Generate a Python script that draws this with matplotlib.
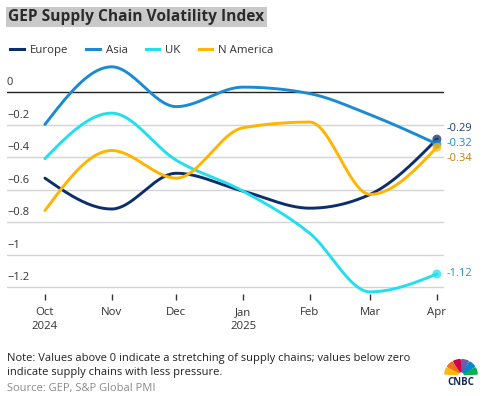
import numpy as np
import matplotlib
matplotlib.use("Agg")
import matplotlib.pyplot as plt
import matplotlib.dates as mdates
from matplotlib.lines import Line2D
from matplotlib.patches import Wedge

plt.rcParams['font.family'] = ['Open Sans', 'DejaVu Sans']

# datos
months = np.array(['2024-10-01', '2024-11-01', '2024-12-01', '2025-01-01',
                   '2025-02-01', '2025-03-01', '2025-04-01'], dtype='datetime64[D]')
month_labels = ['Oct\n2024', 'Nov', 'Dec', 'Jan\n2025', 'Feb', 'Mar', 'Apr']
europe = [-0.53, -0.72, -0.50, -0.61, -0.715, -0.63, -0.29]
asia = [-0.20, 0.155, -0.09, 0.03, -0.01, -0.14, -0.32]
uk = [-0.41, -0.13, -0.42, -0.61, -0.87, -1.23, -1.12]
n_america = [-0.73, -0.36, -0.53, -0.22, -0.185, -0.63, -0.34]
yticks = [0, -0.2, -0.4, -0.6, -0.8, -1, -1.2]
ytick_labels = ['0', '\u22120.2', '\u22120.4', '\u22120.6', '\u22120.8', '\u22121', '\u22121.2']

series = [
    ('Europe', europe, '#0c2e6c', '#1d3f7a', 8),
    ('Asia', asia, '#1a8bd2', '#1a8bd2', 0),
    ('UK', uk, '#22dfee', '#2a8fc0', 0),
    ('N America', n_america, '#ffb400', '#c67b10', -8),
]


def monotone_curve(x, y, n=40):
    # curva monotona tipo d3 (solo para dibujar la linea suave)
    x = np.asarray(x, float)
    y = np.asarray(y, float)
    h = np.diff(x)
    s = np.diff(y) / h
    t = np.zeros_like(y)
    for i in range(1, len(y) - 1):
        p = (s[i - 1] * h[i] + s[i] * h[i - 1]) / (h[i - 1] + h[i])
        t[i] = (np.sign(s[i - 1]) + np.sign(s[i])) * min(abs(s[i - 1]), abs(s[i]), 0.5 * abs(p))
    t[0] = (3 * s[0] - t[1]) / 2
    t[-1] = (3 * s[-1] - t[-2]) / 2
    xs, ys = [], []
    for i in range(len(h)):
        u = np.linspace(0, 1, n)
        x0, x1 = x[i], x[i + 1]
        dx = (x1 - x0) / 3
        p0, p1 = np.array([x0, y[i]]), np.array([x1, y[i + 1]])
        c0 = np.array([x0 + dx, y[i] + dx * t[i]])
        c1 = np.array([x1 - dx, y[i + 1] - dx * t[i + 1]])
        b = ((1 - u) ** 3)[:, None] * p0 + (3 * (1 - u) ** 2 * u)[:, None] * c0 \
            + (3 * (1 - u) * u ** 2)[:, None] * c1 + (u ** 3)[:, None] * p1
        xs.append(b[:, 0])
        ys.append(b[:, 1])
    return np.concatenate(xs), np.concatenate(ys)


fig = plt.figure(figsize=(4.89, 3.96), dpi=100)
ax = fig.add_axes([7 / 489, 1 - 293.5 / 396, 437 / 489, 234 / 396])

xnum = mdates.date2num(months.astype('datetime64[s]').astype(object))

for y in yticks:
    ax.axhline(y, color='#222222' if y == 0 else '#d4d4d4', lw=1.0, zorder=1)
    ax.text(0, y + 0.022, ytick_labels[yticks.index(y)], transform=ax.get_yaxis_transform(),
            ha='left', va='bottom', fontsize=8, color='#333333')

for name, vals, col, lab_col, dy in series:
    cx, cy = monotone_curve(xnum, vals)
    ax.plot(cx, cy, color=col, lw=2.1, solid_capstyle='round', zorder=3, clip_on=False)
    ax.scatter([xnum[-1]], [vals[-1]], s=42, color=col, alpha=0.75, zorder=4,
               edgecolors='none', clip_on=False)

for name, vals, col, lab_col, dy in series:
    ax.annotate('%.2f' % vals[-1], (xnum[-1], vals[-1]), xytext=(7, dy),
                textcoords='offset points', ha='left', va='center',
                fontsize=8, color=lab_col, annotation_clip=False)

ax.set_xlim(xnum[0] - 17.6, xnum[-1] + 3.3)
ax.set_ylim(-1.24, 0.2)
ax.set_xticks(xnum)
ax.set_xticklabels(month_labels, fontsize=8.2, color='#333333', linespacing=1.3)
ax.tick_params(axis='x', length=4, width=1, color='#333333', pad=6)
ax.set_yticks([])
for sp in ax.spines.values():
    sp.set_visible(False)

# titulo con fondo gris
fig.text(8 / 489, 1 - 17 / 396, 'GEP Supply Chain Volatility Index', fontsize=11.2,
         fontweight='bold', color='#2b2b2b', va='center', ha='left',
         bbox=dict(facecolor='#c9c9c9', edgecolor='none', pad=1.8))

handles = [Line2D([], [], color=c, lw=2.2) for _, _, c, _, _ in series]
fig.legend(handles, [s[0] for s in series], loc='upper left',
           bbox_to_anchor=(0 / 489, 1 - 35 / 396), ncol=4, frameon=False,
           fontsize=8.2, handlelength=1.2, handletextpad=0.5, columnspacing=1.6,
           labelcolor='#333333')

fig.text(7 / 489, 1 - 359 / 396,
         'Note: Values above 0 indicate a stretching of supply chains; values below zero',
         fontsize=8, color='#222222', va='center', ha='left')
fig.text(7 / 489, 1 - 373 / 396, 'indicate supply chains with less pressure.',
         fontsize=8, color='#222222', va='center', ha='left')
fig.text(7 / 489, 1 - 389 / 396, 'Source: GEP, S&P Global PMI', fontsize=8,
         color='#8a8a8a', va='center', ha='left')

# logo CNBC sencillo
lax = fig.add_axes([444 / 489, 1 - 390 / 396, 34 / 489, 32 / 396])
lax.set_xlim(-1, 1)
lax.set_ylim(-1.0, 1)
lax.axis('off')
feathers = ['#0db14b', '#0089d0', '#6460aa', '#cc004c', '#f37021', '#fcb711']
for i, c in enumerate(feathers):
    lax.add_patch(Wedge((0, -0.05), 0.95, 180 / 6 * i + 3, 180 / 6 * (i + 1) - 3,
                        width=0.75, color=c))
lax.text(0, -0.55, 'CNBC', ha='center', va='center', fontsize=7, fontweight='bold',
         color='#1a2b5a')

fig.savefig('out.png', dpi=100)
